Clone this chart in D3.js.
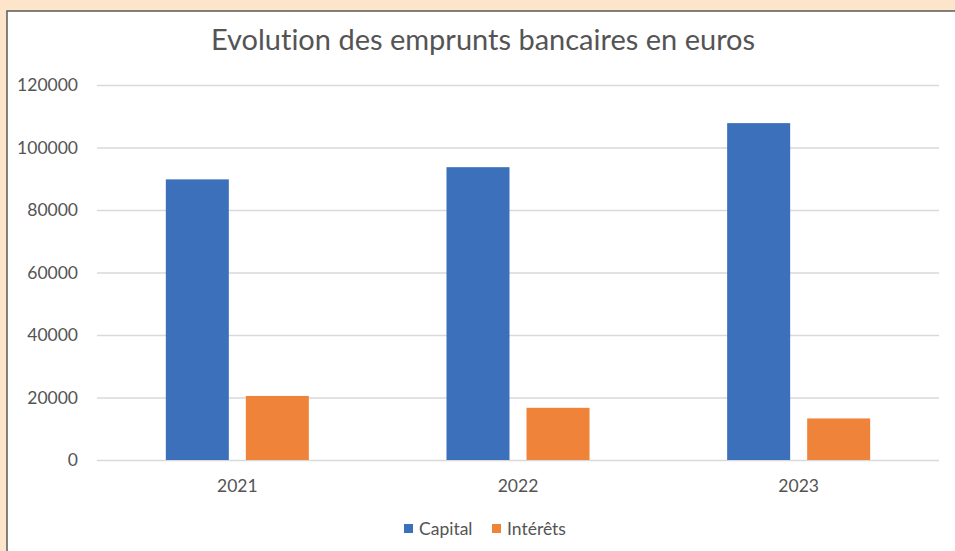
<!DOCTYPE html>
<html><head><meta charset="utf-8">
<script src="https://cdn.jsdelivr.net/npm/d3@7"></script>
<style>html,body{margin:0;padding:0;background:#FDE5CB;}svg{display:block;}text{font-variant-ligatures:none;}</style>
</head><body>
<svg id="c" width="955" height="551"></svg>
<script>
const years = ["2021", "2022", "2023"];
const seriesNames = ["Capital", "Intérêts"];
const capital = [89800, 93700, 107800];
const interets = [20500, 16700, 13300];
const yTicks = [0, 20000, 40000, 60000, 80000, 100000, 120000];
const colors = ["#3C70BA", "#F0833A"];

const svg = d3.select("#c");
const font = "Lato, 'Open Sans', sans-serif";
svg.append("rect").attr("width", 955).attr("height", 551).attr("fill", "#FDE5CB");
svg.append("rect").attr("x", 7).attr("y", 11).attr("width", 980).attr("height", 600)
  .attr("fill", "#fff").attr("stroke", "#5a5a5a").attr("stroke-width", 1.5);

const L = 97, R = 939, T = 85, B = 460;
const y = d3.scaleLinear().domain([0, 120000]).range([B, T]);
const x0 = d3.scaleBand().domain(years).range([L, R]);
const x1 = d3.scaleBand().domain(seriesNames).range([0, x0.bandwidth()])
  .paddingInner(0.2125).paddingOuter(0.86);

const gy = svg.append("g").attr("transform", `translate(${L},0)`)
  .call(d3.axisLeft(y).tickValues(yTicks).tickSize(-(R - L)).tickPadding(19).tickFormat(d3.format("d")));
gy.select(".domain").remove();
gy.selectAll(".tick line").attr("stroke", "#D9D9D9").attr("stroke-width", 1.5);
gy.selectAll(".tick text").attr("fill", "#545454").style("font-family", font).style("font-size", "17.5px");

const data = years.map((yr, i) => ({ year: yr, vals: [capital[i], interets[i]] }));
const groups = svg.append("g").selectAll("g").data(data).join("g")
  .attr("transform", d => `translate(${x0(d.year)},0)`);
groups.selectAll("rect").data(d => d.vals.map((v, j) => ({ name: seriesNames[j], v, j })))
  .join("rect")
  .attr("x", d => x1(d.name)).attr("width", x1.bandwidth())
  .attr("y", d => y(d.v)).attr("height", d => B - y(d.v))
  .attr("fill", d => colors[d.j]);

const gx = svg.append("g").attr("transform", `translate(0,${B})`)
  .call(d3.axisBottom(x0).tickSize(0).tickPadding(20));
gx.select(".domain").remove();
gx.selectAll(".tick text").attr("fill", "#545454").style("font-family", font).style("font-size", "17.5px");

svg.append("text").attr("x", 483).attr("y", 50).attr("text-anchor", "middle")
  .attr("fill", "#545454").style("font-family", font).style("font-size", "29px")
  .text("Evolution des emprunts bancaires en euros");

const leg = svg.append("g");
const legX = [404, 492];
seriesNames.forEach((n, i) => {
  leg.append("rect").attr("x", legX[i]).attr("y", 524).attr("width", 9).attr("height", 9).attr("fill", colors[i]);
  leg.append("text").attr("x", legX[i] + 15).attr("y", 535).attr("fill", "#545454")
    .style("font-family", font).style("font-size", "17.5px").text(n);
});
</script>
</body></html>
